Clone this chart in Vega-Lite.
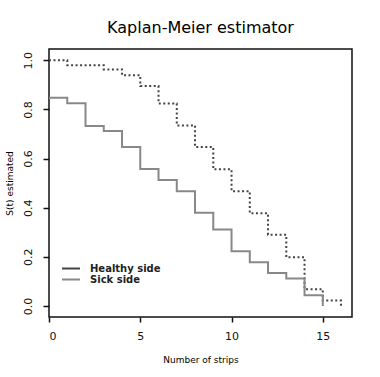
{
  "$schema": "https://vega.github.io/schema/vega-lite/v6.json",
  "width": 303,
  "height": 268,
  "autosize": {"type": "none"},
  "padding": {"left": 49, "top": 49, "right": 28, "bottom": 60},
  "background": "white",
  "title": {"text": "Kaplan-Meier estimator", "fontSize": 16, "font": "DejaVu Sans", "fontWeight": "normal", "color": "#000", "offset": 13, "anchor": "middle"},
  "config": {
    "view": {"stroke": "#111", "strokeWidth": 1.5},
    "font": "DejaVu Sans"
  },
  "data": {"values": [
    {"x": 0, "s": 1.0, "side": "Healthy side"},
    {"x": 1, "s": 0.98, "side": "Healthy side"},
    {"x": 3, "s": 0.963, "side": "Healthy side"},
    {"x": 4, "s": 0.939, "side": "Healthy side"},
    {"x": 5, "s": 0.895, "side": "Healthy side"},
    {"x": 6, "s": 0.824, "side": "Healthy side"},
    {"x": 7, "s": 0.735, "side": "Healthy side"},
    {"x": 8, "s": 0.647, "side": "Healthy side"},
    {"x": 9, "s": 0.556, "side": "Healthy side"},
    {"x": 10, "s": 0.467, "side": "Healthy side"},
    {"x": 11, "s": 0.377, "side": "Healthy side"},
    {"x": 12, "s": 0.29, "side": "Healthy side"},
    {"x": 13, "s": 0.198, "side": "Healthy side"},
    {"x": 14, "s": 0.068, "side": "Healthy side"},
    {"x": 15, "s": 0.022, "side": "Healthy side"},
    {"x": 16, "s": 0.0, "side": "Healthy side"},
    {"x": 0, "s": 0.848, "side": "Sick side"},
    {"x": 1, "s": 0.825, "side": "Sick side"},
    {"x": 2, "s": 0.733, "side": "Sick side"},
    {"x": 3, "s": 0.712, "side": "Sick side"},
    {"x": 4, "s": 0.647, "side": "Sick side"},
    {"x": 5, "s": 0.557, "side": "Sick side"},
    {"x": 6, "s": 0.513, "side": "Sick side"},
    {"x": 7, "s": 0.467, "side": "Sick side"},
    {"x": 8, "s": 0.379, "side": "Sick side"},
    {"x": 9, "s": 0.311, "side": "Sick side"},
    {"x": 10, "s": 0.223, "side": "Sick side"},
    {"x": 11, "s": 0.178, "side": "Sick side"},
    {"x": 12, "s": 0.134, "side": "Sick side"},
    {"x": 13, "s": 0.112, "side": "Sick side"},
    {"x": 14, "s": 0.044, "side": "Sick side"},
    {"x": 15, "s": 0.0, "side": "Sick side"}
  ]},
  "mark": {"type": "line", "interpolate": "step-after", "strokeWidth": 2, "clip": false},
  "encoding": {
    "x": {
      "field": "x", "type": "quantitative",
      "scale": {"domain": [0, 16.6], "nice": false, "zero": false},
      "axis": {
        "title": "Number of strips", "titleFontSize": 9, "titleFontWeight": "normal", "titleColor": "#000", "titlePadding": 14,
        "values": [0, 5, 10, 15], "domain": false, "grid": false,
        "tickSize": 5, "tickColor": "#111", "tickWidth": 1.5,
        "labelFontSize": 11, "labelColor": "#111", "labelPadding": 8
      }
    },
    "y": {
      "field": "s", "type": "quantitative",
      "scale": {"domain": [-0.045, 1.046], "nice": false, "zero": false},
      "axis": {
        "title": "S(t) estimated", "titleFontSize": 9, "titleFontWeight": "normal", "titleColor": "#000", "titlePadding": 8,
        "values": [0, 0.2, 0.4, 0.6, 0.8, 1.0], "format": ".1f", "domain": false, "grid": false,
        "tickSize": 6, "tickColor": "#111", "tickWidth": 1.5,
        "labelFontSize": 11, "labelColor": "#111", "labelAngle": -90, "labelAlign": "center", "labelBaseline": "bottom", "labelPadding": 10
      }
    },
    "color": {
      "field": "side", "type": "nominal",
      "scale": {"domain": ["Healthy side", "Sick side"], "range": ["#444444", "#888888"]},
      "legend": {
        "title": null, "orient": "none", "legendX": 12, "legendY": 214,
        "symbolType": "stroke", "symbolSize": 324, "symbolStrokeWidth": 2,
        "labelFontSize": 10, "labelFontWeight": "bold", "labelColor": "#222", "labelOffset": 9,
        "clipHeight": 11, "rowPadding": 0
      }
    },
    "strokeDash": {
      "condition": {"test": "datum.side === 'Healthy side'", "value": [2, 2.5]},
      "value": [1, 0]
    }
  }
}
